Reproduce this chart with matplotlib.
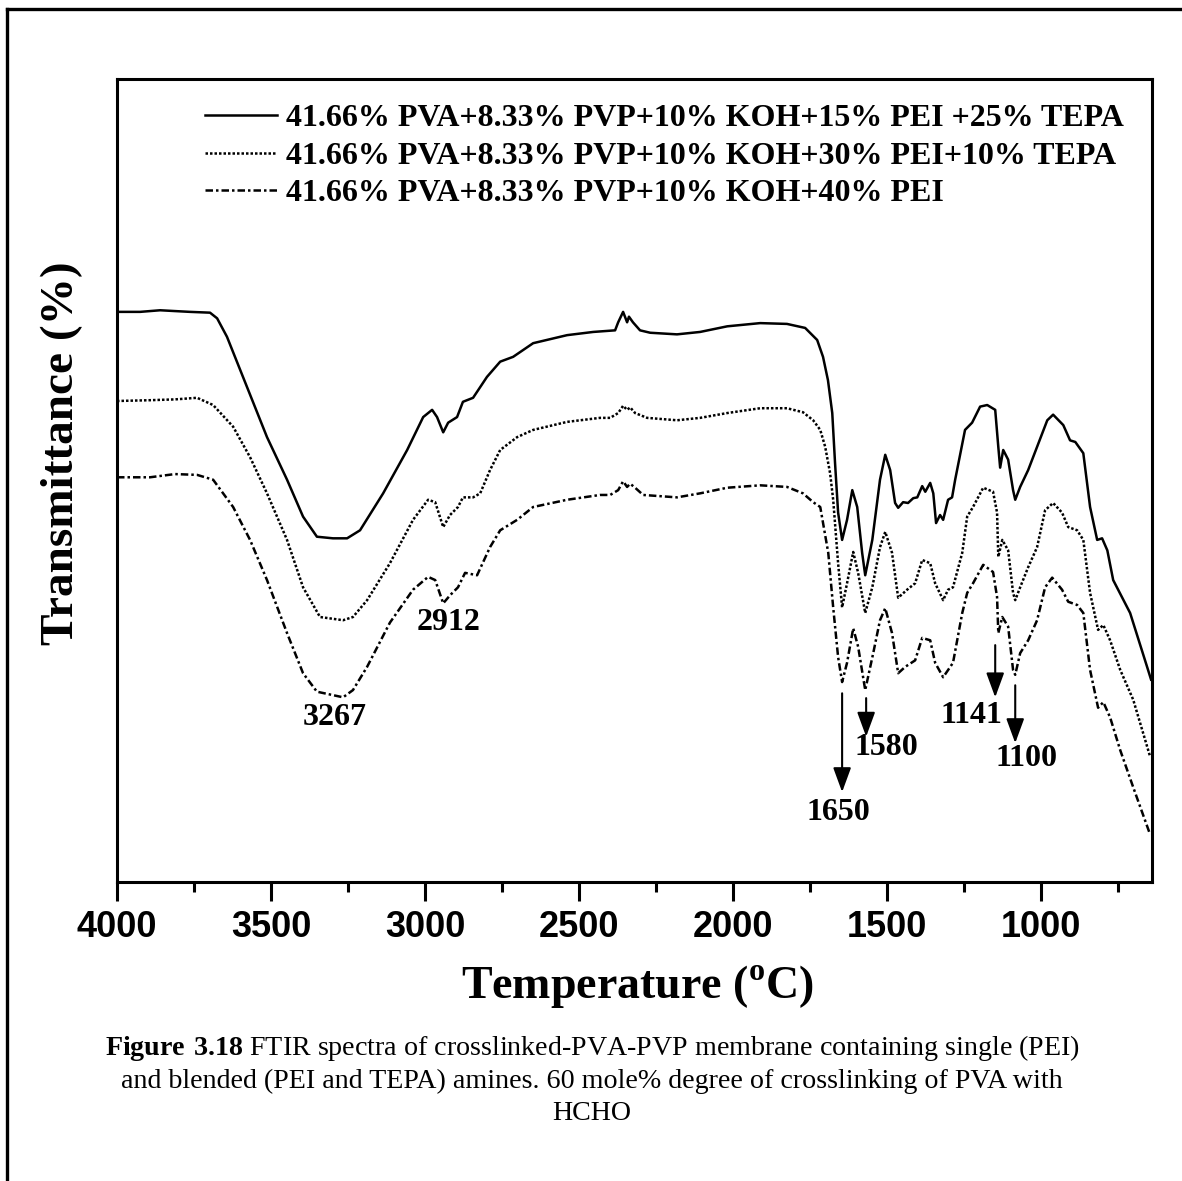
import matplotlib
matplotlib.use('Agg')
import matplotlib.pyplot as plt
from matplotlib.lines import Line2D
from matplotlib.ticker import MultipleLocator

plt.rcParams['mathtext.fontset'] = 'custom'
plt.rcParams['mathtext.rm'] = 'Liberation Serif'
plt.rcParams['mathtext.bf'] = 'Liberation Serif:bold'

# FTIR spectra (wavenumber, transmittance in arbitrary %)
wn_a = [4000, 3925, 3860, 3812, 3763, 3698, 3675, 3643, 3591, 3513, 3448, 3396, 3351, 3299, 3253,
        3211, 3136, 3058, 3006, 2977, 2961, 2941, 2925, 2896, 2877, 2844, 2799, 2756, 2714, 2649,
        2539, 2454, 2383, 2373, 2357, 2344, 2338, 2325, 2302, 2269, 2182, 2107, 2019, 1912, 1825,
        1766, 1727, 1708, 1692, 1678, 1669, 1659, 1646, 1630, 1613, 1597, 1581, 1571, 1548, 1523,
        1506, 1490, 1474, 1464, 1448, 1432, 1415, 1402, 1386, 1376, 1360, 1350, 1341, 1328, 1318,
        1302, 1289, 1279, 1247, 1224, 1198, 1175, 1149, 1139, 1133, 1123, 1107, 1091, 1084, 1068,
        1042, 1013, 980, 961, 928, 906, 889, 863, 841, 818, 802, 785, 766, 711, 656, 643]
t_a = [71.0, 71.0, 71.2, 71.1, 71.0, 70.9, 70.2, 67.9, 62.9, 55.4, 50.1, 45.5, 43.0, 42.8, 42.8,
       43.8, 48.4, 53.8, 57.9, 58.8, 57.9, 56.0, 57.2, 57.9, 59.8, 60.3, 62.9, 64.8, 65.4, 67.1,
       68.1, 68.5, 68.7, 69.7, 71.0, 69.7, 70.4, 69.7, 68.7, 68.4, 68.2, 68.5, 69.2, 69.6, 69.5,
       69.0, 67.5, 65.4, 62.5, 58.4, 52.2, 46.0, 42.6, 45.1, 48.8, 46.7, 41.0, 38.2, 42.6, 50.1,
       53.2, 51.3, 47.2, 46.6, 47.3, 47.2, 47.8, 47.9, 49.3, 48.6, 49.7, 48.4, 44.7, 45.7, 45.1,
       47.6, 47.9, 50.1, 56.3, 57.2, 59.2, 59.4, 58.8, 54.2, 51.6, 53.8, 52.6, 48.8, 47.6, 49.2,
       51.3, 54.2, 57.5, 58.2, 56.9, 55.0, 54.8, 53.4, 46.7, 42.6, 42.8, 41.3, 37.6, 33.5, 26.8, 25.2]

wn_b = [4000, 3893, 3812, 3740, 3688, 3623, 3568, 3513, 3448, 3396, 3341, 3266, 3234, 3188, 3114,
        3039, 2990, 2967, 2941, 2919, 2893, 2877, 2844, 2821, 2789, 2756, 2701, 2649, 2539, 2432,
        2399, 2373, 2357, 2344, 2334, 2318, 2279, 2182, 2107, 2019, 1912, 1825, 1773, 1740, 1717,
        1701, 1685, 1675, 1659, 1646, 1630, 1610, 1594, 1571, 1548, 1523, 1506, 1484, 1464, 1435,
        1409, 1386, 1360, 1344, 1318, 1302, 1286, 1256, 1240, 1221, 1188, 1156, 1143, 1139, 1126,
        1107, 1091, 1084, 1068, 1042, 1013, 987, 961, 932, 912, 883, 863, 841, 815, 798,
        776, 743, 701, 646]
t_b = [59.9, 60.0, 60.1, 60.3, 59.4, 56.7, 52.9, 48.4, 42.6, 36.7, 33.0, 32.6, 33.0, 35.1, 39.7,
       45.1, 47.6, 47.3, 44.2, 45.7, 46.7, 47.9, 47.9, 48.4, 51.3, 53.8, 55.4, 56.3, 57.3, 57.8,
       57.8, 58.4, 59.3, 58.8, 59.1, 58.4, 57.8, 57.5, 57.8, 58.4, 59.0, 59.0, 58.5, 57.5, 56.3,
       54.2, 50.9, 47.6, 39.7, 34.2, 37.2, 41.1, 38.5, 33.5, 36.7, 41.7, 43.6, 41.0, 35.4, 36.4,
       37.2, 40.1, 39.7, 37.2, 35.1, 36.4, 36.7, 41.0, 45.5, 46.7, 49.1, 48.6, 46.0, 40.5, 42.6,
       41.3, 36.0, 35.1, 36.7, 39.2, 41.7, 46.3, 47.2, 46.0, 44.2, 43.8, 42.6, 36.0, 31.4, 32.0,
       30.1, 26.4, 22.7, 15.6]

wn_c = [4000, 3893, 3812, 3740, 3688, 3623, 3568, 3513, 3448, 3396, 3351, 3266, 3234, 3188, 3114,
        3039, 2990, 2967, 2941, 2919, 2893, 2870, 2831, 2789, 2756, 2701, 2649, 2539, 2432, 2399,
        2373, 2357, 2344, 2334, 2318, 2292, 2182, 2107, 2019, 1912, 1825, 1773, 1740, 1717, 1691,
        1675, 1659, 1646, 1630, 1610, 1594, 1571, 1545, 1523, 1506, 1484, 1464, 1441, 1409, 1386,
        1360, 1344, 1318, 1286, 1256, 1240, 1221, 1188, 1156, 1143, 1139, 1126, 1107, 1091, 1084,
        1068, 1042, 1013, 987, 964, 932, 912, 883, 863, 841, 815, 798, 776, 743, 701, 646]
t_c = [50.4, 50.4, 50.8, 50.7, 50.1, 46.7, 42.6, 37.6, 31.0, 26.0, 23.7, 23.0, 23.9, 26.8, 32.3,
       36.4, 38.0, 37.6, 34.7, 35.7, 36.7, 38.5, 38.2, 41.7, 43.8, 45.1, 46.7, 47.6, 48.2, 48.2,
       48.8, 49.9, 49.2, 49.6, 49.1, 48.2, 47.9, 48.4, 49.1, 49.4, 49.2, 48.4, 47.3, 46.7, 41.0,
       34.2, 28.0, 24.9, 27.3, 31.6, 29.3, 23.9, 28.5, 32.6, 34.1, 31.0, 26.0, 26.8, 27.6, 30.4,
       30.1, 27.3, 25.5, 27.3, 33.5, 36.0, 37.2, 39.5, 38.6, 35.5, 31.0, 33.0, 31.8, 26.4, 25.8,
       28.5, 30.1, 32.6, 36.7, 37.9, 36.4, 34.9, 34.5, 33.5, 26.4, 21.7, 22.4, 20.5, 16.4, 11.8, 5.9]

series_labels = ['41.66% PVA+8.33% PVP+10% KOH+15% PEI +25% TEPA',
                 '41.66% PVA+8.33% PVP+10% KOH+30% PEI+10% TEPA',
                 '41.66% PVA+8.33% PVP+10% KOH+40% PEI']

# peak labels: text, label position (wn, T)
peak_text = ['3267', '2912', '1650', '1580', '1141', '1100']
peak_pos = [(3292, 20.5), (2925, 32.3), (1659, 8.7), (1503, 16.7), (1227, 20.7), (1049, 15.4)]
# arrows: x position, tail T, tip T
arrow_x = [1646, 1568, 1149, 1084]
arrow_from = [23.5, 22.9, 29.5, 24.5]
arrow_to = [11.2, 18.1, 23.0, 17.3]

W, H = 1182, 1181
fig = plt.figure(figsize=(W / 100, H / 100), dpi=100)
ax = fig.add_axes([117 / W, 1 - 882 / H, (1152 - 117) / W, (882 - 79) / H])

ax.plot(wn_a, t_a, color='k', lw=1.8, ls='-', label=series_labels[0])
ax.plot(wn_b, t_b, color='k', lw=1.8, ls=(0, (1, 0.8)), label=series_labels[1])
ax.plot(wn_c, t_c, color='k', lw=1.8, ls=(0, (3, 1.2, 1, 1.2)), label=series_labels[2])

ax.set_xlim(4000, 640)
ax.set_ylim(0, 100)
ax.set_yticks([])
ax.xaxis.set_major_locator(MultipleLocator(500))
ax.xaxis.set_minor_locator(MultipleLocator(250))
ax.tick_params(axis='x', which='major', direction='out', length=14, width=2.2, pad=6)
ax.tick_params(axis='x', which='minor', direction='out', length=7, width=2.2)
for lab in ax.get_xticklabels():
    lab.set_fontfamily('Liberation Sans')
    lab.set_fontweight('bold')
    lab.set_fontsize(26)
for sp in ax.spines.values():
    sp.set_linewidth(2.2)

serif_b = dict(family='Liberation Serif', weight='bold')
for txt, (x, y) in zip(peak_text, peak_pos):
    ax.text(x, y, txt, ha='center', va='center', fontsize=23, **serif_b)
for x, y0, y1 in zip(arrow_x, arrow_from, arrow_to):
    ax.annotate('', xy=(x, y1), xytext=(x, y0),
                arrowprops=dict(arrowstyle='-|>,head_length=0.6,head_width=0.22',
                                lw=1.5, color='k', mutation_scale=25,
                                shrinkA=0, shrinkB=0))

leg = ax.legend(loc='upper left', bbox_to_anchor=(205 / W, 1 - 104 / H),
                bbox_transform=fig.transFigure, frameon=False, borderpad=0,
                borderaxespad=0, handlelength=2.25, handletextpad=0.3,
                labelspacing=0.25, prop=dict(family='Liberation Serif', weight='bold', size=23))

fig.text(62 / W, 1 - 453 / H, 'Transmittance (%)', rotation=90, ha='center', va='center',
         fontsize=34, **serif_b)
fig.text(637 / W, 1 - 986 / H, r'Temperature ($^{\mathbf{o}}$C)', ha='center', va='center',
         fontsize=33, **serif_b)

cap = [r'$\mathbf{Figure\ 3.18}$ FTIR spectra of crosslinked-PVA-PVP membrane containing single (PEI)',
       'and blended (PEI and TEPA) amines. 60 mole% degree of crosslinking of PVA with',
       'HCHO']
for i, line in enumerate(cap):
    fig.text(592 / W, 1 - (1048 + 33 * i) / H, line, ha='center', va='center',
             fontsize=20.2, family='Liberation Serif')

# page frame
fig.add_artist(Line2D([7 / W, 1], [1 - 9 / H, 1 - 9 / H], color='k', lw=2.4))
fig.add_artist(Line2D([7 / W, 7 / W], [1 - 9 / H, 0], color='k', lw=2.4))

fig.savefig('out.png', dpi=100)
